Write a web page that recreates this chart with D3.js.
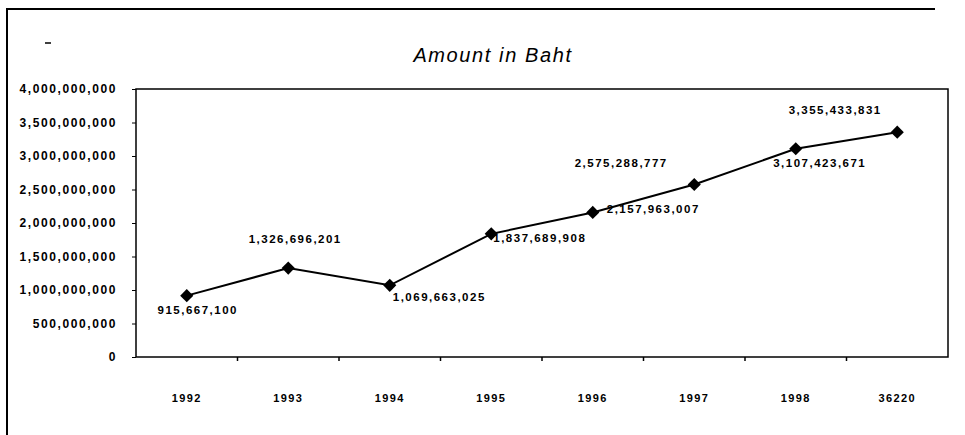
<!DOCTYPE html>
<html>
<head>
<meta charset="utf-8">
<script src="https://cdn.jsdelivr.net/npm/d3@7"></script>
<style>
  body { margin: 0; background: #fff; }
  svg { display: block; font-family: "Liberation Sans", Arial, sans-serif; }
</style>
</head>
<body>
<svg id="chart"></svg>
<script>
const years = ["1992", "1993", "1994", "1995", "1996", "1997", "1998", "36220"];
const amounts = [915667100, 1326696201, 1069663025, 1837689908, 2157963007, 2575288777, 3107423671, 3355433831];
const valueLabels = ["915,667,100", "1,326,696,201", "1,069,663,025", "1,837,689,908",
                     "2,157,963,007", "2,575,288,777", "3,107,423,671", "3,355,433,831"];
const yTicks = [0, 500000000, 1000000000, 1500000000, 2000000000, 2500000000, 3000000000, 3500000000, 4000000000];

// hand placement of each data label relative to its point (like the original)
const labelPlace = [
    {dx: 11, dy: 18, anchor: "middle"},
    {dx: 7, dy: -25, anchor: "middle"},
    {dx: 3, dy: 16, anchor: "start"},
    {dx: 2, dy: 8, anchor: "start"},
    {dx: 14, dy: 1, anchor: "start"},
    {dx: -73, dy: -17, anchor: "middle"},
    {dx: 24, dy: 18, anchor: "middle"},
    {dx: -62, dy: -18, anchor: "middle"}
];

const W = 965, H = 435;
const plot = {left: 136, top: 89, right: 948, bottom: 357};

const svg = d3.select("#chart").attr("width", W).attr("height", H);

// outer chart frame (only top and left survive in the scan)
svg.append("path")
    .attr("d", `M7,436 L7,9 L935,9`)
    .attr("fill", "none")
    .attr("stroke", "#000")
    .attr("stroke-width", 2);

svg.append("line")
    .attr("x1", 45).attr("x2", 51).attr("y1", 43).attr("y2", 43)
    .attr("stroke", "#000").attr("stroke-width", 1.5);

svg.append("text")
    .attr("x", 493)
    .attr("y", 62)
    .attr("text-anchor", "middle")
    .attr("font-size", "20px")
    .attr("font-style", "italic")
    .attr("letter-spacing", "1.6px")
    .text("Amount in Baht");

const x = d3.scaleBand()
    .domain(years)
    .range([plot.left, plot.right]);

const y = d3.scaleLinear()
    .domain([0, 4000000000])
    .range([plot.bottom, plot.top]);

// plot area box
svg.append("rect")
    .attr("x", plot.left).attr("y", plot.top)
    .attr("width", plot.right - plot.left)
    .attr("height", plot.bottom - plot.top)
    .attr("fill", "none")
    .attr("stroke", "#000")
    .attr("stroke-width", 1.5);

const yAxis = svg.append("g")
    .attr("transform", `translate(${plot.left},0)`)
    .call(d3.axisLeft(y).tickValues(yTicks).tickFormat(d3.format(",")).tickSize(4).tickPadding(15));
yAxis.select(".domain").remove();
yAxis.selectAll("text")
    .attr("font-size", "12px")
    .attr("font-weight", "bold")
    .attr("letter-spacing", "1.6px")
    .attr("font-family", "Liberation Sans, Arial, sans-serif");

// x ticks sit on the band edges, labels at band centres
svg.append("g")
    .selectAll("line")
    .data(years.slice(1))
    .join("line")
    .attr("x1", d => x(d)).attr("x2", d => x(d))
    .attr("y1", plot.bottom).attr("y2", plot.bottom + 4)
    .attr("stroke", "#000").attr("stroke-width", 1.5);

svg.append("g")
    .selectAll("text")
    .data(years)
    .join("text")
    .attr("x", d => x(d) + x.bandwidth() / 2)
    .attr("y", 402)
    .attr("text-anchor", "middle")
    .attr("font-size", "11px")
    .attr("font-weight", "bold")
    .attr("letter-spacing", "1.4px")
    .text(d => d);

const pts = years.map((d, i) => [x(d) + x.bandwidth() / 2, y(amounts[i])]);

svg.append("path")
    .attr("d", d3.line()(pts))
    .attr("fill", "none")
    .attr("stroke", "#000")
    .attr("stroke-width", 2);

svg.append("g")
    .selectAll("path")
    .data(pts)
    .join("path")
    .attr("transform", d => `translate(${d[0]},${d[1]})`)
    .attr("d", d3.symbol().type(d3.symbolDiamond2).size(110))
    .attr("fill", "#000");

svg.append("g")
    .selectAll("text")
    .data(pts)
    .join("text")
    .attr("x", (d, i) => d[0] + labelPlace[i].dx)
    .attr("y", (d, i) => d[1] + labelPlace[i].dy)
    .attr("text-anchor", (d, i) => labelPlace[i].anchor)
    .attr("font-size", "11.5px")
    .attr("font-weight", "bold")
    .attr("letter-spacing", "1.5px")
    .text((d, i) => valueLabels[i]);
</script>
</body>
</html>
